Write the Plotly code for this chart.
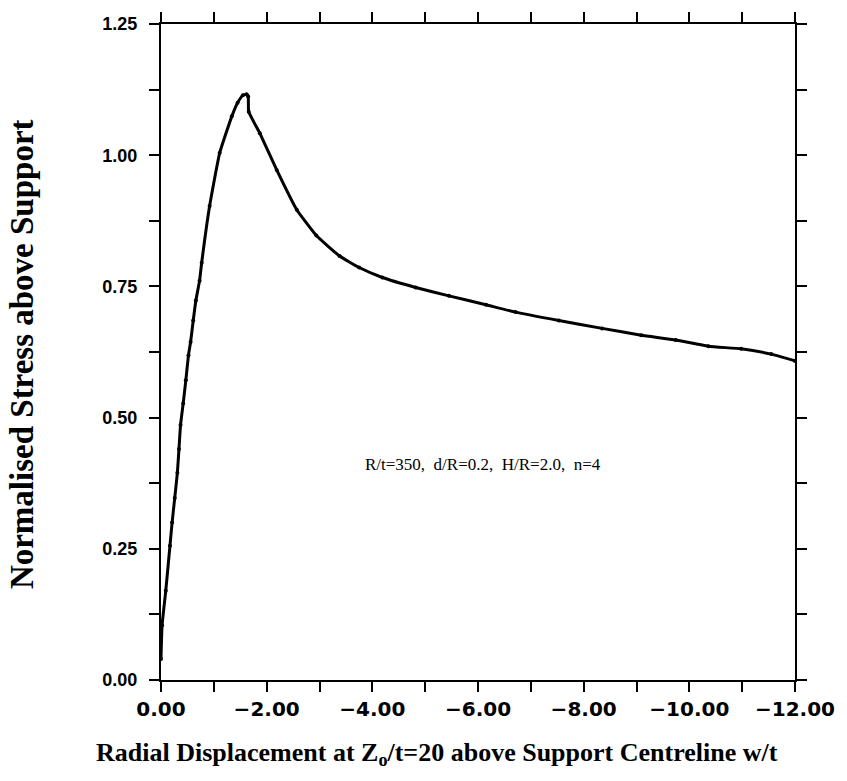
import plotly.graph_objects as go

# Radial displacement w/t (negative = inward) and normalised stress above the support
w_t = [0.0, -0.02, -0.09, -0.17, -0.21, -0.26, -0.31, -0.34, -0.37, -0.42,
       -0.47, -0.52, -0.56, -0.61, -0.66, -0.73, -0.77, -0.92, -1.11, -1.34,
       -1.45, -1.55, -1.62, -1.65, -1.66, -1.87, -2.19, -2.57, -2.94, -3.38,
       -3.75, -4.19, -4.82, -5.45, -6.15, -6.71, -7.53, -8.35, -9.09, -9.74,
       -10.36, -10.98, -11.55, -12.0]
stress = [0.04, 0.104, 0.17, 0.256, 0.30, 0.347, 0.395, 0.44, 0.486, 0.527,
          0.571, 0.619, 0.644, 0.685, 0.723, 0.761, 0.795, 0.903, 1.004, 1.074,
          1.100, 1.114, 1.116, 1.112, 1.083, 1.042, 0.972, 0.896, 0.847, 0.808,
          0.786, 0.767, 0.748, 0.732, 0.715, 0.701, 0.685, 0.670, 0.657, 0.648,
          0.636, 0.631, 0.621, 0.608]

x_title = "Radial Displacement at Z<sub>o</sub>/t=20 above Support Centreline w/t"
y_title = "Normalised Stress above Support"
case_label = "R/t=350,  d/R=0.2,  H/R=2.0,  n=4"

fig = go.Figure()
fig.add_trace(go.Scatter(
    x=w_t, y=stress, mode="lines+markers",
    line=dict(color="black", width=3, shape="spline", smoothing=0.4),
    marker=dict(color="black", size=4),
    showlegend=False,
))

axis_common = dict(
    showline=True, linecolor="black", linewidth=2,
    mirror="ticks", ticks="outside", ticklen=10, tickwidth=2,
    tickcolor="black", showgrid=False, zeroline=False,
)

fig.update_xaxes(
    range=[0, -12], tick0=0, dtick=2, tickformat=".2f",
    minor=dict(dtick=1, ticks="outside", ticklen=10, tickwidth=2, tickcolor="black"),
    tickfont=dict(family="DejaVu Sans", size=20, color="black", weight="bold"),
    ticklabelstandoff=0,
    **axis_common,
)
fig.update_yaxes(
    range=[0, 1.25], tick0=0, dtick=0.25, tickformat=".2f",
    minor=dict(dtick=0.125, ticks="outside", ticklen=10, tickwidth=2, tickcolor="black"),
    tickfont=dict(family="Liberation Sans", size=18, color="black", weight="bold"),
    ticklabelstandoff=8,
    **axis_common,
)

# axis titles, placed relative to the plotting area
fig.add_annotation(
    x=0.436, y=-0.113, xref="paper", yref="paper", text=x_title, showarrow=False,
    xanchor="center", yanchor="middle",
    font=dict(family="Liberation Serif", size=26, color="black", weight="bold"),
)
fig.add_annotation(
    x=-0.219, y=0.497, xref="paper", yref="paper", text=y_title,
    textangle=-90, showarrow=False, xanchor="center", yanchor="middle",
    font=dict(family="Liberation Serif", size=33, color="black", weight="bold"),
)

fig.add_annotation(
    x=-6.1, y=0.41, xref="x", yref="y", text=case_label, showarrow=False,
    font=dict(family="Liberation Serif", size=17, color="black"),
)

fig.update_layout(
    width=847, height=781,
    margin=dict(l=161, r=50, t=20, b=101),
    paper_bgcolor="white", plot_bgcolor="white",
)

fig.write_html("out.html")
